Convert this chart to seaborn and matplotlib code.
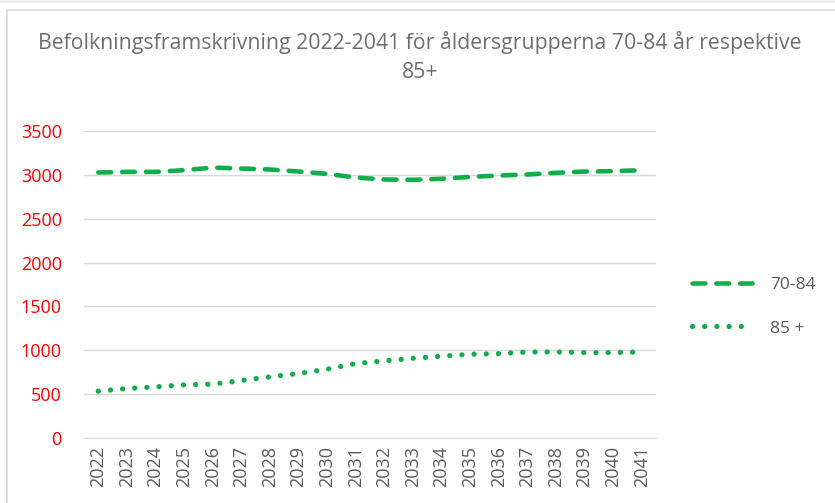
import matplotlib
matplotlib.use("Agg")
import matplotlib.pyplot as plt
import seaborn as sns
import pandas as pd
from matplotlib.lines import Line2D

years = [str(y) for y in range(2022, 2042)]
age_70_84 = [3027, 3034, 3034, 3053, 3083, 3072, 3061, 3038, 3011, 2970,
             2947, 2943, 2955, 2977, 2992, 3004, 3023, 3038, 3042, 3053]
age_85 = [534, 564, 583, 606, 614, 655, 697, 735, 784, 849,
          879, 909, 932, 955, 962, 981, 981, 974, 974, 981]
yticks = [0, 500, 1000, 1500, 2000, 2500, 3000, 3500]

title = "Befolkningsframskrivning 2022-2041 för åldersgrupperna 70-84 år respektive\n85+"

green = "#12AD4B"
grey_text = "#595959"
grid_col = "#d9d9d9"

sns.set_style("white")
plt.rcParams['font.family'] = ['Open Sans', 'DejaVu Sans']

fig = plt.figure(figsize=(8.35, 5.03), dpi=100)
ax = fig.add_axes([84 / 835, 1 - 438 / 503, 572 / 835, 307 / 503])

df = pd.DataFrame({"year": years, "a": age_70_84, "b": age_85})

sns.lineplot(data=df, x="year", y="a", ax=ax, color=green, linewidth=3.3,
             linestyle=(0, (2.8, 2.4)), dash_capstyle="round", label="70-84")
sns.lineplot(data=df, x="year", y="b", ax=ax, color=green, linewidth=3.8,
             linestyle=(0, (0.01, 2.3)), dash_capstyle="round", label="85 +")

ax.set_xlim(-0.5, len(years) - 0.5)
ax.set_ylim(0, 3500)
ax.set_yticks(yticks)
ax.grid(axis="y", color=grid_col, linewidth=1)
ax.set_axisbelow(True)
for s in ["top", "right", "left"]:
    ax.spines[s].set_visible(False)
ax.spines["bottom"].set_color(grid_col)
ax.tick_params(axis="both", length=0)
ax.tick_params(axis="y", colors="red", labelsize=13, pad=16)
ax.tick_params(axis="x", colors=grey_text, labelsize=13, rotation=90, pad=6)
ax.set_xlabel("")
ax.set_ylabel("")

leg = ax.legend(loc="center left", bbox_to_anchor=(1.035, 0.427), frameon=False,
                fontsize=12.5, handlelength=3.5, labelspacing=1.55, handletextpad=1.0)
for t in leg.get_texts():
    t.set_color(grey_text)

fig.text(0.503, 1 - 57 / 503, title, ha="center", va="center", fontsize=15.3,
         color="#6f6f6f", linespacing=1.45)

# chart frame
fig.add_artist(Line2D([7 / 835, 7 / 835], [0, 1 - 10 / 503], color=grid_col, lw=1.2))
fig.add_artist(Line2D([7 / 835, 1], [1 - 10 / 503, 1 - 10 / 503], color=grid_col, lw=1.2))
fig.add_artist(Line2D([0, 1], [1 - 1 / 503, 1 - 1 / 503], color="#ececec", lw=2))

fig.savefig("out.png", dpi=100)
